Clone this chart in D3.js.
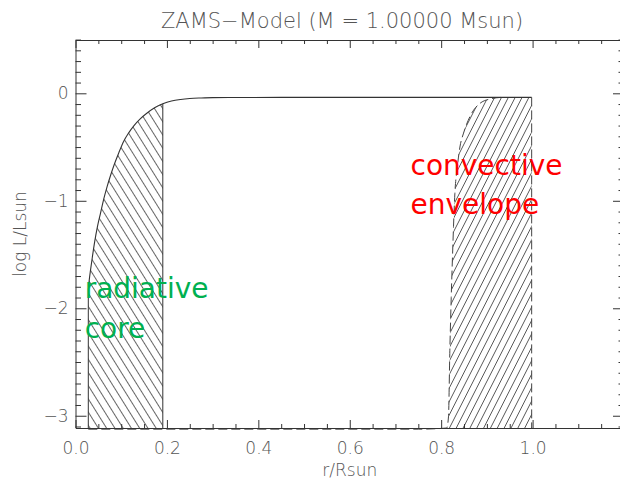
<!DOCTYPE html>
<html>
<head>
<meta charset="utf-8">
<script src="https://cdn.jsdelivr.net/npm/d3@7"></script>
<style>
  html, body { margin: 0; padding: 0; background: #fff; }
  svg { display: block; }
  .thin { font-family: "DejaVu Sans", sans-serif; font-weight: 200; fill: #555; }
</style>
</head>
<body>
<div id="chart"></div>
<script>
// ---------------- data ----------------
const title = "ZAMS\u2212Model (M = 1.00000 Msun)";
const xLabel = "r/Rsun";
const yLabel = "log L/Lsun";

const xMajorTicks = [0, 0.2, 0.4, 0.6, 0.8, 1.0, 1.2];
const xTickLabels = ["0.0", "0.2", "0.4", "0.6", "0.8", "1.0", ""];
const yMajorTicks = [-3, -2, -1, 0];
const yTickLabels = ["\u22123", "\u22122", "\u22121", "0"];

// luminosity profile (solid line)
const rLum = [0.028, 0.030, 0.033, 0.037, 0.042, 0.048, 0.055, 0.062, 0.069, 0.077,
              0.085, 0.095, 0.105, 0.116, 0.128, 0.141, 0.156, 0.173, 0.191, 0.21,
              0.23, 0.25, 0.275, 0.30, 0.35, 0.45, 0.6, 0.8, 0.93, 0.998];
const logL = [-1.83, -1.74, -1.64, -1.52, -1.38, -1.24, -1.11, -0.98, -0.87, -0.76,
              -0.66, -0.55, -0.45, -0.37, -0.30, -0.24, -0.186, -0.135, -0.098, -0.072,
              -0.057, -0.048, -0.043, -0.040, -0.039, -0.038, -0.038, -0.038, -0.038, -0.038];

// dashed boundary curve
const rDash = [0.028, 0.2, 0.4, 0.6, 0.75, 0.812, 0.816, 0.819, 0.822, 0.825, 0.827,
               0.830, 0.835, 0.841, 0.849, 0.863, 0.885, 0.91, 0.93];
const logLDash = [-3.125, -3.125, -3.125, -3.125, -3.125, -3.114, -3.01, -2.39, -1.9, -1.49, -1.24,
                  -0.93, -0.70, -0.50, -0.37, -0.216, -0.093, -0.05, -0.038];

const coreRange = [0.028, 0.191];     // radiative core hatched zone
const envRange = [0.812, 0.998];      // convective envelope hatched zone

const regionLabels = [
  { lines: ["radiative", "core"], r: 0.02, logL: -1.905, color: "#00b050" },
  { lines: ["convective", "envelope"], r: 0.733, logL: -0.76, color: "#ff0000" }
];

// ---------------- layout ----------------
const W = 620, H = 482;
const xDomain = [0, 1.2], yDomain = [-3.114, 0.496];
const plot = { left: 75.5, right: 624, top: 40, bottom: 428 };

const x = d3.scaleLinear().domain(xDomain).range([plot.left, plot.right]);
const y = d3.scaleLinear().domain(yDomain).range([plot.bottom, plot.top]);

const svg = d3.select("#chart").append("svg").attr("width", W).attr("height", H);
const defs = svg.append("defs");

function hatch(id, angle, spacing) {
  const p = defs.append("pattern")
    .attr("id", id).attr("patternUnits", "userSpaceOnUse")
    .attr("width", spacing).attr("height", 10)
    .attr("patternTransform", `rotate(${angle})`);
  p.append("line").attr("x1", spacing / 2).attr("x2", spacing / 2)
    .attr("y1", -1).attr("y2", 11)
    .attr("stroke", "#555").attr("stroke-width", 0.9);
}
hatch("hatchCore", -32, 7.0);
hatch("hatchEnv", 27, 6.1);

const lumPts = rLum.map((r, i) => [r, logL[i]]);
const dashPts = rDash.map((r, i) => [r, logLDash[i]]);
const line = d3.line().x(d => x(d[0])).y(d => y(d[1])).curve(d3.curveMonotoneX);

// core polygon
const corePts = lumPts.filter(d => d[0] >= coreRange[0] && d[0] <= coreRange[1]);
const corePoly = [[coreRange[0], yDomain[0]], ...corePts, [coreRange[1], yDomain[0]]];
svg.append("path")
  .attr("d", d3.line().x(d => x(d[0])).y(d => y(d[1])).curve(d3.curveMonotoneX)(corePoly) + "Z")
  .attr("fill", "url(#hatchCore)").attr("stroke", "none");
// core edges
[coreRange[0], coreRange[1]].forEach((r, i) => {
  const top = i === 0 ? corePts[0][1] : corePts[corePts.length - 1][1];
  svg.append("line").attr("x1", x(r)).attr("x2", x(r))
    .attr("y1", y(top)).attr("y2", y(yDomain[0]))
    .attr("stroke", "#333").attr("stroke-width", 1);
});

// envelope polygon
const envLeft = dashPts.filter(d => d[0] >= envRange[0]);
const envTop = lumPts.filter(d => d[0] > envLeft[envLeft.length - 1][0]);
const envPoly = [...envLeft, ...envTop, [envRange[1], yDomain[0]]];
svg.append("path")
  .attr("d", d3.line().x(d => x(d[0])).y(d => y(d[1])).curve(d3.curveMonotoneX)(envPoly) + "Z")
  .attr("fill", "url(#hatchEnv)").attr("stroke", "none");

// dashed curves
svg.append("path").attr("d", line(dashPts))
  .attr("fill", "none").attr("stroke", "#444").attr("stroke-width", 1)
  .attr("stroke-dasharray", "9,4");
svg.append("line").attr("x1", x(envRange[1])).attr("x2", x(envRange[1]))
  .attr("y1", y(logL[logL.length - 1])).attr("y2", y(yDomain[0]))
  .attr("stroke", "#444").attr("stroke-width", 1).attr("stroke-dasharray", "9,4");

// luminosity curve
svg.append("path").attr("d", line(lumPts))
  .attr("fill", "none").attr("stroke", "#333").attr("stroke-width", 1.1);

// ---------------- axes ----------------
const xMinor = d3.range(0, 1.2001, 0.05).filter(v => !xMajorTicks.some(m => Math.abs(m - v) < 1e-6));
const yMinor = d3.range(-3.1, 0.5001, 0.1).filter(v => !yMajorTicks.some(m => Math.abs(m - v) < 1e-6));

function styleAxis(g) {
  g.selectAll("path, line").attr("stroke", "#333").attr("stroke-width", 1);
  g.selectAll("text").attr("class", "thin").attr("font-size", 17).attr("fill", "#555");
}

const fmtX = v => xTickLabels[xMajorTicks.findIndex(m => Math.abs(m - v) < 1e-6)];
const fmtY = v => yTickLabels[yMajorTicks.findIndex(m => Math.abs(m - v) < 1e-6)];

// bottom
svg.append("g").attr("transform", `translate(0,${plot.bottom})`)
  .call(d3.axisBottom(x).tickValues(xMajorTicks).tickFormat(fmtX).tickSizeInner(-8).tickSizeOuter(0).tickPadding(14))
  .call(styleAxis);
svg.append("g").attr("transform", `translate(0,${plot.bottom})`)
  .call(d3.axisBottom(x).tickValues(xMinor).tickFormat("").tickSizeInner(-4).tickSizeOuter(0))
  .call(g => g.select(".domain").remove()).call(styleAxis);
// top
svg.append("g").attr("transform", `translate(0,${plot.top})`)
  .call(d3.axisTop(x).tickValues(xMajorTicks).tickFormat("").tickSizeInner(-8).tickSizeOuter(0))
  .call(styleAxis);
svg.append("g").attr("transform", `translate(0,${plot.top})`)
  .call(d3.axisTop(x).tickValues(xMinor).tickFormat("").tickSizeInner(-4).tickSizeOuter(0))
  .call(g => g.select(".domain").remove()).call(styleAxis);
// left
svg.append("g").attr("transform", `translate(${plot.left},0)`)
  .call(d3.axisLeft(y).tickValues(yMajorTicks).tickFormat(fmtY).tickSizeInner(-11).tickSizeOuter(0).tickPadding(7))
  .call(styleAxis);
svg.append("g").attr("transform", `translate(${plot.left},0)`)
  .call(d3.axisLeft(y).tickValues(yMinor).tickFormat("").tickSizeInner(-5.5).tickSizeOuter(0))
  .call(g => g.select(".domain").remove()).call(styleAxis);
// right
svg.append("g").attr("transform", `translate(${plot.right},0)`)
  .call(d3.axisRight(y).tickValues(yMajorTicks).tickFormat("").tickSizeInner(-11).tickSizeOuter(0))
  .call(styleAxis);
svg.append("g").attr("transform", `translate(${plot.right},0)`)
  .call(d3.axisRight(y).tickValues(yMinor).tickFormat("").tickSizeInner(-5.5).tickSizeOuter(0))
  .call(g => g.select(".domain").remove()).call(styleAxis);

// ---------------- titles ----------------
svg.append("text").attr("class", "thin").attr("x", 342).attr("y", 28)
  .attr("text-anchor", "middle").attr("font-size", 21).text(title);
svg.append("text").attr("class", "thin").attr("x", (plot.left + plot.right) / 2).attr("y", 476)
  .attr("text-anchor", "middle").attr("font-size", 17).text(xLabel);
svg.append("text").attr("class", "thin")
  .attr("transform", `translate(26,${(plot.top + plot.bottom) / 2}) rotate(-90)`)
  .attr("text-anchor", "middle").attr("font-size", 17).text(yLabel);

// region labels
regionLabels.forEach(lab => {
  const t = svg.append("text").attr("x", x(lab.r)).attr("y", y(lab.logL))
    .attr("font-family", "DejaVu Sans, sans-serif").attr("font-size", 28)
    .attr("fill", lab.color);
  lab.lines.forEach((s, i) => {
    t.append("tspan").attr("x", x(lab.r)).attr("dy", i === 0 ? 0 : 39.5).text(s);
  });
});
</script>
</body>
</html>
